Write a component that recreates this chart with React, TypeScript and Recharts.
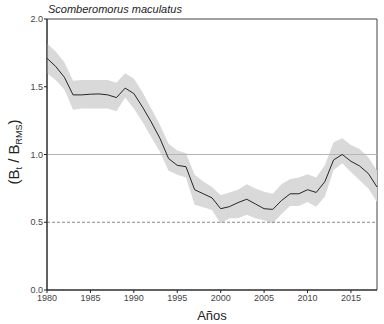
import React from 'react';
import { ComposedChart, Area, Line, XAxis, YAxis, ReferenceLine, ReferenceArea } from 'recharts';

const years = [
  1980, 1981, 1982, 1983, 1984, 1985, 1986, 1987, 1988, 1989,
  1990, 1991, 1992, 1993, 1994, 1995, 1996, 1997, 1998, 1999,
  2000, 2001, 2002, 2003, 2004, 2005, 2006, 2007, 2008, 2009,
  2010, 2011, 2012, 2013, 2014, 2015, 2016, 2017, 2018,
];
const ratio = [
  1.71, 1.65, 1.57, 1.44, 1.44, 1.445, 1.447, 1.44, 1.42, 1.49,
  1.45, 1.35, 1.24, 1.12, 0.97, 0.92, 0.91, 0.74, 0.71, 0.68,
  0.6, 0.615, 0.645, 0.67, 0.635, 0.6, 0.595, 0.66, 0.71, 0.71,
  0.74, 0.72, 0.8, 0.96, 1.0, 0.95, 0.915, 0.86, 0.76,
];
const upper = [
  1.82, 1.76, 1.68, 1.545, 1.55, 1.55, 1.55, 1.55, 1.53, 1.6,
  1.56, 1.46, 1.34, 1.22, 1.08, 1.03, 1.01, 0.85, 0.8, 0.76,
  0.7, 0.72, 0.74, 0.78, 0.75, 0.725, 0.71, 0.78, 0.82, 0.83,
  0.855, 0.83, 0.92, 1.09, 1.12, 1.07, 1.04, 0.98, 0.88,
];
const lower = [
  1.6, 1.55, 1.48, 1.33, 1.34, 1.34, 1.34, 1.34, 1.32, 1.42,
  1.34, 1.24, 1.13, 1.02, 0.88, 0.85, 0.83, 0.63, 0.61, 0.59,
  0.49, 0.53, 0.53, 0.555, 0.53, 0.515, 0.49, 0.56, 0.62, 0.62,
  0.65, 0.615, 0.69, 0.885, 0.935, 0.87, 0.81, 0.75, 0.65,
];
const xTicks = [1980, 1985, 1990, 1995, 2000, 2005, 2010, 2015];
const yTicks = [0, 0.5, 1, 1.5, 2];

const data = years.map((year, i) => ({
  year,
  ratio: ratio[i],
  band: [lower[i], upper[i]],
}));

const FONT = '"Liberation Sans", Arial, sans-serif';

export default function App() {
  return (
    <div style={{ position: 'absolute', left: 0, top: 0, width: 384, height: 324, background: '#fff' }}>
      <ComposedChart
        width={384}
        height={324}
        data={data}
        margin={{ top: 19, right: 7, bottom: 14, left: 17 }}
      >
        <XAxis
          dataKey="year"
          type="number"
          domain={[1980, 2018]}
          ticks={xTicks}
          tickSize={3}
          tickMargin={2}
          height={20}
          stroke="#222"
          tick={{ fill: '#444', fontSize: 9, fontFamily: FONT }}
          label={{
            content: () => (
              <text x={212} y={320} textAnchor="middle" fontSize={13} fontFamily={FONT} fill="#222">
                Años
              </text>
            ),
          }}
        />
        <YAxis
          type="number"
          domain={[0, 2]}
          ticks={yTicks}
          width={30}
          tickSize={3}
          tickMargin={1}
          stroke="#222"
          tickFormatter={(v: number) => v.toFixed(1)}
          tick={{ fill: '#444', fontSize: 9, fontFamily: FONT }}
          label={{
            content: () => (
              <g>
                <text
                  x={48}
                  y={13}
                  fontSize={11}
                  fontStyle="italic"
                  fontFamily={FONT}
                  fill="#222"
                >
                  Scomberomorus maculatus
                </text>
                <text
                  transform="translate(19,152) rotate(-90)"
                  textAnchor="middle"
                  fontSize={15}
                  fontFamily={FONT}
                  fill="#222"
                >
                  (B<tspan fontSize={9} dy={3}>t</tspan>
                  <tspan dy={-3}> / B</tspan>
                  <tspan fontSize={9} dy={3}>RMS</tspan>
                  <tspan dy={-3}>)</tspan>
                </text>
              </g>
            ),
          }}
        />
        <ReferenceArea
          x1={1980}
          x2={2018}
          y1={0}
          y2={2}
          fill="none"
          stroke="#444"
          strokeWidth={1}
        />
        <Area
          dataKey="band"
          type="linear"
          stroke="none"
          fill="#d9d9d9"
          fillOpacity={1}
          isAnimationActive={false}
        />
        <ReferenceLine y={1} stroke="#b5b5b5" strokeWidth={1} />
        <ReferenceLine y={0.5} stroke="#888" strokeDasharray="3 2" strokeWidth={1} />
        <Line
          dataKey="ratio"
          type="linear"
          stroke="#111"
          strokeWidth={0.9}
          dot={false}
          isAnimationActive={false}
        />
      </ComposedChart>
    </div>
  );
}
